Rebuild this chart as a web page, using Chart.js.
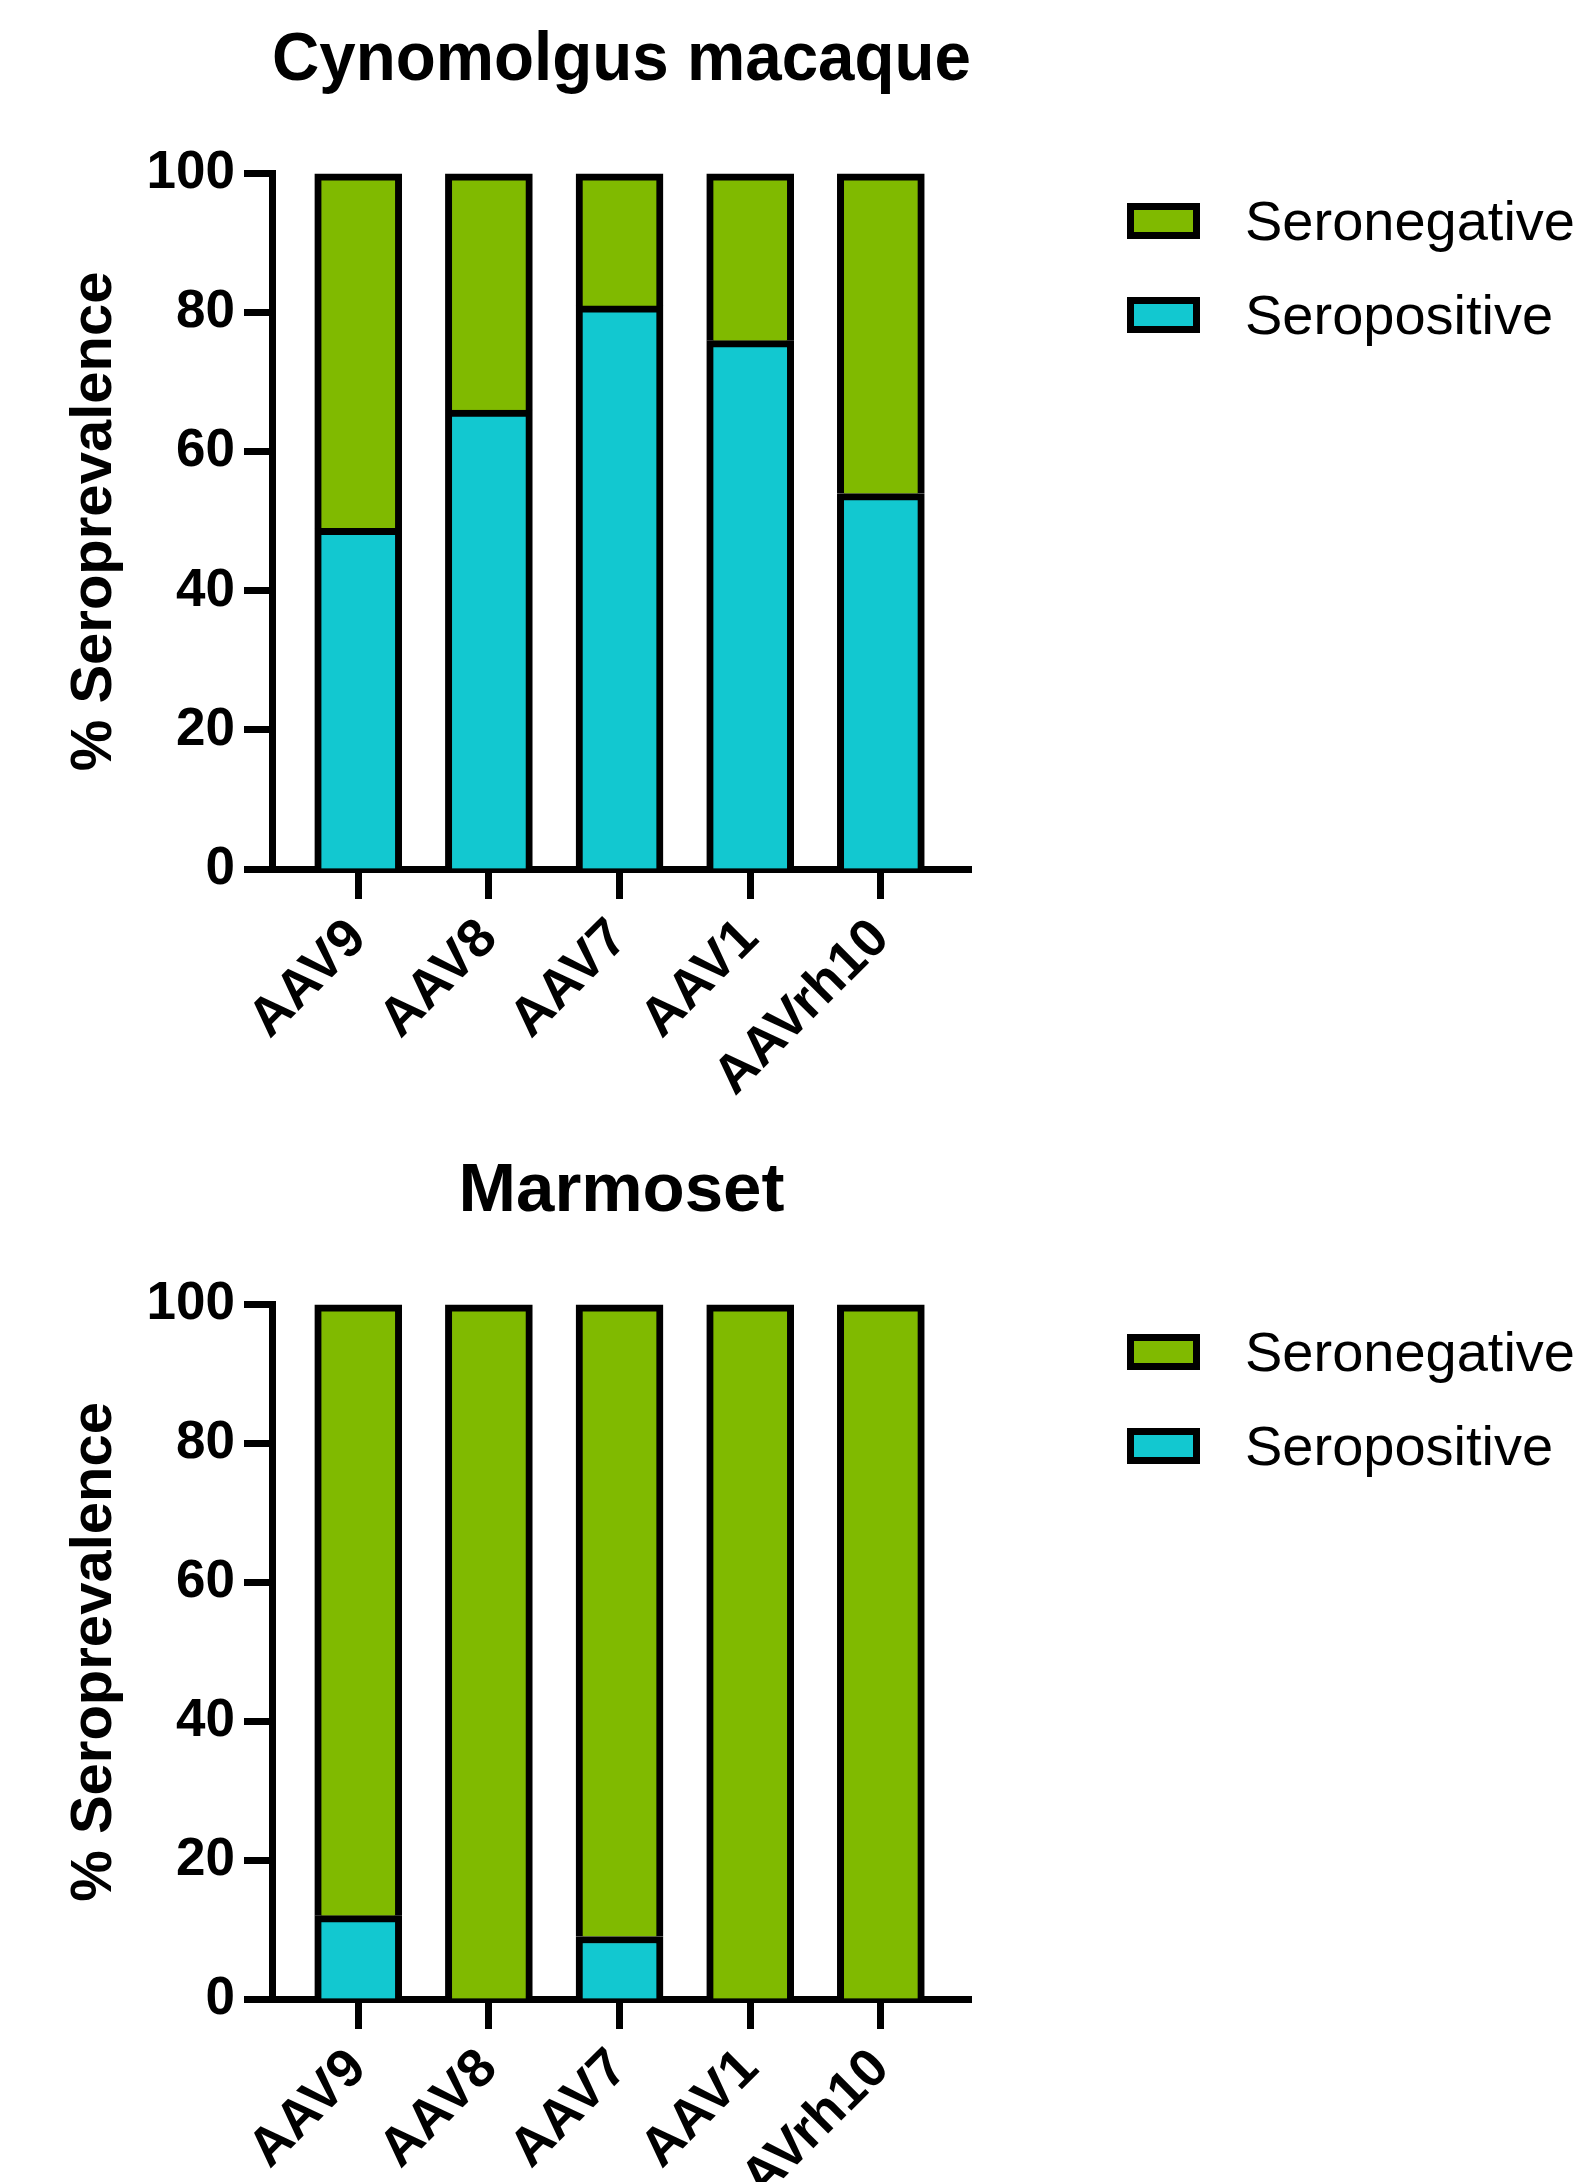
<!DOCTYPE html>
<html>
<head>
<meta charset="utf-8">
<script src="https://cdn.jsdelivr.net/npm/chart.js@4.4.1/dist/chart.umd.min.js"></script>
<style>
  html, body { margin: 0; padding: 0; background: #fff; }
  body { width: 1577px; height: 2182px; overflow: hidden; }
  .panel { position: relative; width: 1577px; }
  .panel canvas { display: block; }
  .legend { position: absolute; left: 1127px; top: 203px; font-family: 'Liberation Sans', Arial, sans-serif; font-size: 56px; color: #000; }
  .legend .row { display: flex; align-items: center; height: 36px; margin-bottom: 58px; white-space: nowrap; }
  .legend .box { box-sizing: border-box; width: 73px; height: 36px; border: 7px solid #000; }
  .legend .label { margin-left: 45px; line-height: 36px; }
</style>
</head>
<body>
<div class="panel" style="height:1131px">
  <canvas id="cynoCanvas" width="1577" height="1131"></canvas>
  <div class="legend" id="cynoLegend"></div>
</div>
<div class="panel" style="height:1051px">
  <canvas id="marmoCanvas" width="1577" height="1051"></canvas>
  <div class="legend" id="marmoLegend"></div>
</div>
<script>
const categories = ['AAV9', 'AAV8', 'AAV7', 'AAV1', 'AAVrh10'];

const cynoPositive = [49, 66, 81, 76, 54];
const cynoNegative = [51, 34, 19, 24, 46];

const marmoPositive = [12, 0, 9, 0, 0];
const marmoNegative = [88, 100, 91, 100, 100];

const FONT = "'Liberation Sans', Arial, sans-serif";
const CYAN = '#12C8D0';
const GREEN = '#80BA00';

function makeChart(canvasId, legendId, title, positive, negative, xHeight) {
  const toPoints = arr => arr.map((v, i) => ({ x: i, y: v }));

  const chart = new Chart(document.getElementById(canvasId), {
    type: 'bar',
    data: {
      datasets: [
        {
          label: 'Seropositive',
          data: toPoints(positive),
          backgroundColor: CYAN,
          borderColor: '#000',
          borderWidth: 7,
          borderSkipped: 'start',
          barThickness: 87,
          clip: false,
        },
        {
          label: 'Seronegative',
          data: toPoints(negative),
          backgroundColor: GREEN,
          borderColor: '#000',
          borderWidth: 7,
          borderSkipped: 'start',
          barThickness: 87,
          clip: false,
        },
      ]
    },
    options: {
      responsive: false,
      animation: false,
      devicePixelRatio: 1,
      layout: { padding: { left: 0, right: 1577 - 971, top: 0, bottom: 0 } },
      plugins: {
        legend: { display: false },
        tooltip: { enabled: false },
        title: {
          display: true,
          text: title,
          fullSize: false,
          color: '#000',
          font: { family: FONT, size: 69, weight: 'bold', lineHeight: 1.2 },
          padding: { top: 20, bottom: 71 },
        },
      },
      scales: {
        x: {
          type: 'linear',
          stacked: true,
          offset: false,
          min: -0.66,
          max: 4.69,
          afterFit: scale => { scale.height = xHeight; },
          ticks: {
            stepSize: 1,
            includeBounds: false,
            autoSkip: false,
            minRotation: 45,
            maxRotation: 45,
            padding: 8,
            color: '#000',
            font: { family: FONT, size: 54, weight: 'bold' },
            callback: value => categories[value] ?? '',
          },
          grid: { offset: false, drawOnChartArea: false, drawTicks: true, tickLength: 30, tickWidth: 7, tickColor: '#000' },
          border: { display: true, width: 7, color: '#000' },
        },
        y: {
          stacked: true,
          min: 0,
          max: 100,
          afterFit: scale => { scale.width = 272; },
          ticks: {
            stepSize: 20,
            padding: 9,
            color: '#000',
            font: { family: FONT, size: 53, weight: 'bold' },
          },
          title: {
            display: true,
            text: '% Seroprevalence',
            color: '#000',
            font: { family: FONT, size: 58, weight: 'bold', lineHeight: 1.2 },
            padding: { top: 60, bottom: 0 },
          },
          grid: { drawOnChartArea: false, drawTicks: true, tickLength: 28, tickWidth: 7, tickColor: '#000' },
          border: { display: true, width: 7, color: '#000' },
        },
      }
    }
  });

  // legend, top item = top of the stack
  const legendEl = document.getElementById(legendId);
  chart.data.datasets.slice().reverse().forEach(ds => {
    const row = document.createElement('div');
    row.className = 'row';
    const box = document.createElement('span');
    box.className = 'box';
    box.style.background = ds.backgroundColor;
    const label = document.createElement('span');
    label.className = 'label';
    label.textContent = ds.label;
    row.appendChild(box);
    row.appendChild(label);
    legendEl.appendChild(row);
  });

  return chart;
}

makeChart('cynoCanvas', 'cynoLegend', 'Cynomolgus macaque', cynoPositive, cynoNegative, 1131 - 869);
makeChart('marmoCanvas', 'marmoLegend', 'Marmoset', marmoPositive, marmoNegative, 1051 - 868);
</script>
</body>
</html>
